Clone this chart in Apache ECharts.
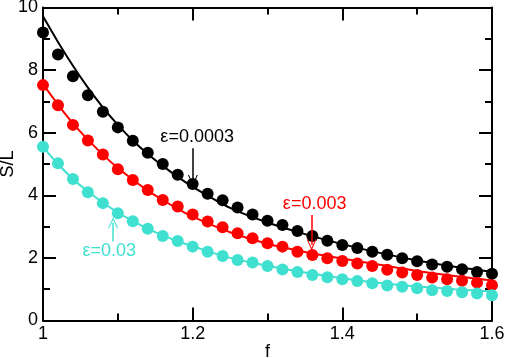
<!DOCTYPE html>
<html>
<head>
<meta charset="utf-8">
<script src="https://cdn.jsdelivr.net/npm/echarts@6/dist/echarts.min.js"></script>
<style>html,body{margin:0;padding:0;background:#fff;}#c{width:505px;height:358px;}</style>
</head>
<body>
<div id="c"></div>
<script>
// f values of the symbols
const fPts = [1.00,1.02,1.04,1.06,1.08,1.10,1.12,1.14,1.16,1.18,1.20,1.22,1.24,1.26,1.28,1.30,1.32,1.34,1.36,1.38,1.40,1.42,1.44,1.46,1.48,1.50,1.52,1.54,1.56,1.58,1.60];
const blackPts = [9.2,8.5,7.8,7.2,6.67,6.17,5.74,5.36,5.0,4.66,4.36,4.05,3.84,3.61,3.39,3.19,3.05,2.86,2.7,2.55,2.41,2.32,2.2,2.1,1.99,1.89,1.79,1.72,1.64,1.55,1.49];
const redPts = [7.52,6.88,6.25,5.75,5.3,4.83,4.49,4.17,3.85,3.64,3.39,3.16,2.98,2.79,2.63,2.47,2.36,2.2,2.09,1.99,1.9,1.82,1.74,1.62,1.53,1.45,1.37,1.32,1.27,1.21,1.13];
const cyanPts = [5.55,5.02,4.52,4.1,3.75,3.43,3.17,2.93,2.7,2.54,2.36,2.2,2.06,1.93,1.85,1.74,1.63,1.55,1.45,1.38,1.32,1.26,1.19,1.12,1.08,1.03,0.97,0.94,0.9,0.86,0.81];
// fitted curves
const fLine = [1.00,1.02,1.04,1.06,1.08,1.10,1.12,1.14,1.16,1.18,1.20,1.25,1.30,1.35,1.40,1.45,1.50,1.55,1.60];
const blackLine = [9.72,8.9,8.14,7.44,6.81,6.25,5.75,5.32,4.94,4.59,4.27,3.6,3.13,2.76,2.44,2.16,1.92,1.72,1.56];
const redLine = [7.55,6.9,6.3,5.78,5.3,4.87,4.5,4.15,3.85,3.57,3.32,2.82,2.45,2.19,1.98,1.78,1.58,1.42,1.28];
const cyanLine = [5.55,5.0,4.52,4.12,3.77,3.45,3.18,2.93,2.72,2.53,2.37,2.0,1.75,1.53,1.35,1.2,1.09,1.0,0.93];
// axis ticks
const xTicks = [1, 1.2, 1.4, 1.6];
const yTicks = [0, 2, 4, 6, 8, 10];
// annotations: [label, text f, text y, arrow f, arrow tail y, arrow tip y]
const labels = [
  ['ε=0.0003', 1.206, 5.86, 1.2003, 5.5, 4.47],
  ['ε=0.003', 1.363, 3.72, 1.359, 3.37, 2.42],
  ['ε=0.03', 1.0886, 2.22, 1.0937, 2.52, 3.12]
];
const colors = ['#000000', '#ff0000', '#40e0d0'];

const FONT = 'Liberation Sans, Arial, Helvetica, sans-serif';
const chevron = 'path://M0,0 L5,11 L3.9,11 L0,2.4 L-3.9,11 L-5,11 Z';

function zip(a, b) { return a.map((v, i) => [v, b[i]]); }

function axisCommon(pos, show) {
  return {
    type: 'value', position: pos,
    axisLine: { show: true, onZero: false, lineStyle: { color: '#000', width: 2 } },
    axisTick: { show: true, inside: true, length: 13, lineStyle: { color: '#000', width: 2 } },
    minorTick: { show: true, splitNumber: 2, length: 7, lineStyle: { color: '#000', width: 2 } },
    splitLine: { show: false },
    axisLabel: { show: show, color: '#000', fontSize: 18, fontFamily: FONT }
  };
}

const xMain = Object.assign(axisCommon('bottom', true), {
  min: xTicks[0], max: xTicks[xTicks.length - 1], interval: 0.2,
  name: 'f', nameLocation: 'middle', nameGap: 23, nameMoveOverlap: false,
  nameTextStyle: { color: '#000', fontSize: 18, fontFamily: FONT }
});
xMain.axisLabel.margin = 5;
xMain.axisLabel.formatter = v => String(Number(v.toFixed(1)));
const xTop = Object.assign(axisCommon('top', false), { min: 1, max: 1.6, interval: 0.2 });

const yMain = Object.assign(axisCommon('left', true), {
  min: yTicks[0], max: yTicks[yTicks.length - 1], interval: 2,
  name: 'S/L', nameLocation: 'middle', nameGap: 26, nameMoveOverlap: false,
  nameTextStyle: { color: '#000', fontSize: 18, fontFamily: FONT }
});
yMain.axisLabel.margin = 5;
const yRight = Object.assign(axisCommon('right', false), { min: 0, max: 10, interval: 2 });

const pts = [blackPts, redPts, cyanPts];
const lines = [blackLine, redLine, cyanLine];
const series = [];
lines.forEach((ln, i) => {
  series.push({
    type: 'line', data: zip(fLine, ln), smooth: 0.3, showSymbol: false, z: 2,
    lineStyle: { color: colors[i], width: 2 }, silent: true, animation: false
  });
});
pts.forEach((p, i) => {
  const L = labels[i];
  series.push({
    type: 'scatter', data: zip(fPts, p), symbol: 'circle', symbolSize: 12, z: 3,
    itemStyle: { color: colors[i], opacity: 1 }, animation: false,
    markPoint: {
      symbol: 'circle', symbolSize: 1, itemStyle: { color: 'rgba(0,0,0,0)' },
      label: { show: true, position: 'inside', formatter: L[0], color: colors[i], fontSize: 18, fontFamily: FONT },
      data: [{ coord: [L[1], L[2]] }], animation: false
    },
    markLine: {
      silent: true, animation: false,
      symbol: ['none', chevron], symbolSize: [10, 11],
      lineStyle: { color: colors[i], width: 1.5, type: 'solid' },
      label: { show: false },
      data: [[{ coord: [L[3], L[4]] }, { coord: [L[3], L[5]] }]]
    }
  });
});

const chart = echarts.init(document.getElementById('c'), null, { renderer: 'canvas' });
chart.setOption({
  animation: false,
  backgroundColor: '#fff',
  grid: { left: 43, right: 13, top: 7.5, bottom: 37.5, containLabel: false, outerBoundsMode: 'none' },
  xAxis: [xMain, xTop],
  yAxis: [yMain, yRight],
  series: series
});
</script>
</body>
</html>
